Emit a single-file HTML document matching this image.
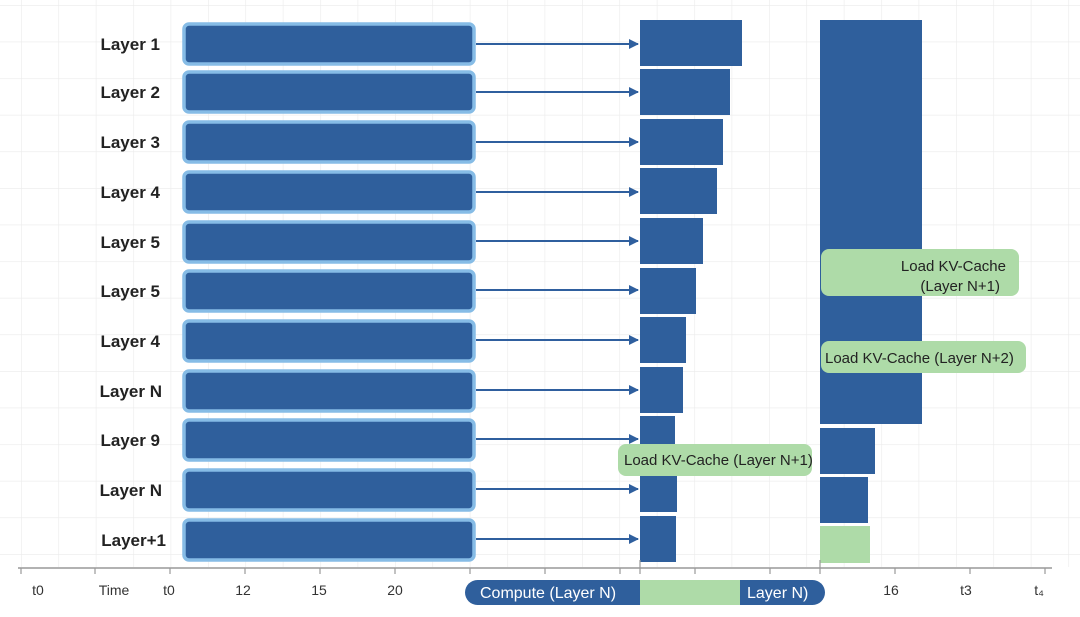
<!DOCTYPE html>
<html><head><meta charset="utf-8"><style>
body{margin:0;background:#fff}
svg{display:block}
text{font-family:"Liberation Sans",sans-serif}
</style></head><body>
<svg width="1080" height="617" viewBox="0 0 1080 617" xmlns="http://www.w3.org/2000/svg">
<defs>
<pattern id="g" x="21" y="5" width="37.4" height="36.6" patternUnits="userSpaceOnUse">
<path d="M0 0V36.6M0 0H37.4" stroke="#ebebeb" stroke-width="1.2" fill="none"/>
</pattern>
<marker id="a" markerWidth="10" markerHeight="10" refX="9" refY="5" orient="auto" markerUnits="userSpaceOnUse">
<path d="M0 0L10 5L0 10z" fill="#2f5f9e"/></marker>
</defs>
<rect x="0" y="0" width="1080" height="567" fill="url(#g)"/>
<g font-size="17" font-weight="bold" fill="#222" text-anchor="end">
<text x="160" y="50">Layer 1</text><text x="160" y="98">Layer 2</text><text x="160" y="148">Layer 3</text>
<text x="160" y="198">Layer 4</text><text x="160" y="248">Layer 5</text><text x="160" y="297">Layer 5</text>
<text x="160" y="347">Layer 4</text><text x="162" y="397">Layer N</text><text x="160" y="446">Layer 9</text>
<text x="162" y="496">Layer N</text><text x="166" y="546">Layer+1</text>
</g>
<g fill="#2f5f9c" stroke="#86bce6" stroke-width="3.5">
<rect x="184" y="24" width="290" height="40" rx="5"/><rect x="184" y="72" width="290" height="40" rx="5"/>
<rect x="184" y="122" width="290" height="40" rx="5"/><rect x="184" y="172" width="290" height="40" rx="5"/>
<rect x="184" y="222" width="290" height="40" rx="5"/><rect x="184" y="271" width="290" height="40" rx="5"/>
<rect x="184" y="321" width="290" height="40" rx="5"/><rect x="184" y="371" width="290" height="40" rx="5"/>
<rect x="184" y="420" width="290" height="40" rx="5"/><rect x="184" y="470" width="290" height="40" rx="5"/>
<rect x="184" y="520" width="290" height="40" rx="5"/>
</g>
<g stroke="#2f5f9e" stroke-width="2" marker-end="url(#a)">
<line x1="476" y1="44" x2="638" y2="44"/><line x1="476" y1="92" x2="638" y2="92"/>
<line x1="476" y1="142" x2="638" y2="142"/><line x1="476" y1="192" x2="638" y2="192"/>
<line x1="476" y1="241" x2="638" y2="241"/><line x1="476" y1="290" x2="638" y2="290"/>
<line x1="476" y1="340" x2="638" y2="340"/><line x1="476" y1="390" x2="638" y2="390"/>
<line x1="476" y1="439" x2="638" y2="439"/><line x1="476" y1="489" x2="638" y2="489"/>
<line x1="476" y1="539" x2="638" y2="539"/>
</g>
<g fill="#2f5f9c">
<rect x="640" y="20" width="102" height="46"/><rect x="640" y="69" width="90" height="46"/>
<rect x="640" y="119" width="83" height="46"/><rect x="640" y="168" width="77" height="46"/>
<rect x="640" y="218" width="63" height="46"/><rect x="640" y="268" width="56" height="46"/>
<rect x="640" y="317" width="46" height="46"/><rect x="640" y="367" width="43" height="46"/>
<rect x="640" y="416" width="35" height="46"/><rect x="640" y="466" width="37" height="46"/>
<rect x="640" y="516" width="36" height="46"/>
<rect x="820" y="20" width="102" height="404"/>
<rect x="820" y="428" width="55" height="46"/><rect x="820" y="477" width="48" height="46"/>
</g>
<rect x="820" y="526" width="50" height="37" fill="#aedba8"/>
<rect x="821" y="249" width="198" height="47" rx="8" fill="#aedba8"/>
<rect x="821" y="341" width="205" height="32" rx="8" fill="#aedba8"/>
<rect x="618" y="444" width="194" height="32" rx="8" fill="#aedba8"/>
<g font-size="15" fill="#222">
<text x="1006" y="271" text-anchor="end">Load KV-Cache</text>
<text x="1000" y="291" text-anchor="end">(Layer N+1)</text>
<text x="825" y="363">Load KV-Cache (Layer N+2)</text>
<text x="624" y="465">Load KV-Cache (Layer N+1)</text>
</g>
<line x1="18" y1="568" x2="1052" y2="568" stroke="#999" stroke-width="1.5"/>
<g stroke="#999" stroke-width="1.2">
<line x1="21" y1="568" x2="21" y2="574"/><line x1="95" y1="568" x2="95" y2="574"/><line x1="170" y1="568" x2="170" y2="574"/>
<line x1="245" y1="568" x2="245" y2="574"/><line x1="320" y1="568" x2="320" y2="574"/><line x1="395" y1="568" x2="395" y2="574"/>
<line x1="470" y1="568" x2="470" y2="574"/><line x1="545" y1="568" x2="545" y2="574"/><line x1="620" y1="568" x2="620" y2="574"/>
<line x1="640" y1="560" x2="640" y2="574"/><line x1="695" y1="568" x2="695" y2="574"/><line x1="770" y1="568" x2="770" y2="574"/>
<line x1="820" y1="560" x2="820" y2="574"/><line x1="895" y1="568" x2="895" y2="574"/><line x1="970" y1="568" x2="970" y2="574"/>
<line x1="1045" y1="568" x2="1045" y2="574"/>
</g>
<g font-size="14" fill="#333" text-anchor="middle">
<text x="38" y="595">t0</text><text x="114" y="595">Time</text><text x="169" y="595">t0</text>
<text x="243" y="595">12</text><text x="319" y="595">15</text><text x="395" y="595">20</text>
<text x="891" y="595">16</text><text x="966" y="595">t3</text><text x="1039" y="595">t₄</text>
</g>
<rect x="465" y="580" width="360" height="25" rx="12.5" fill="#2f5f9c"/>
<rect x="640" y="580" width="100" height="25" fill="#aedba8"/>
<g font-size="16" fill="#fff">
<text x="480" y="598">Compute (Layer N)</text>
<text x="747" y="598">Layer N)</text>
</g>
</svg>
</body></html>
